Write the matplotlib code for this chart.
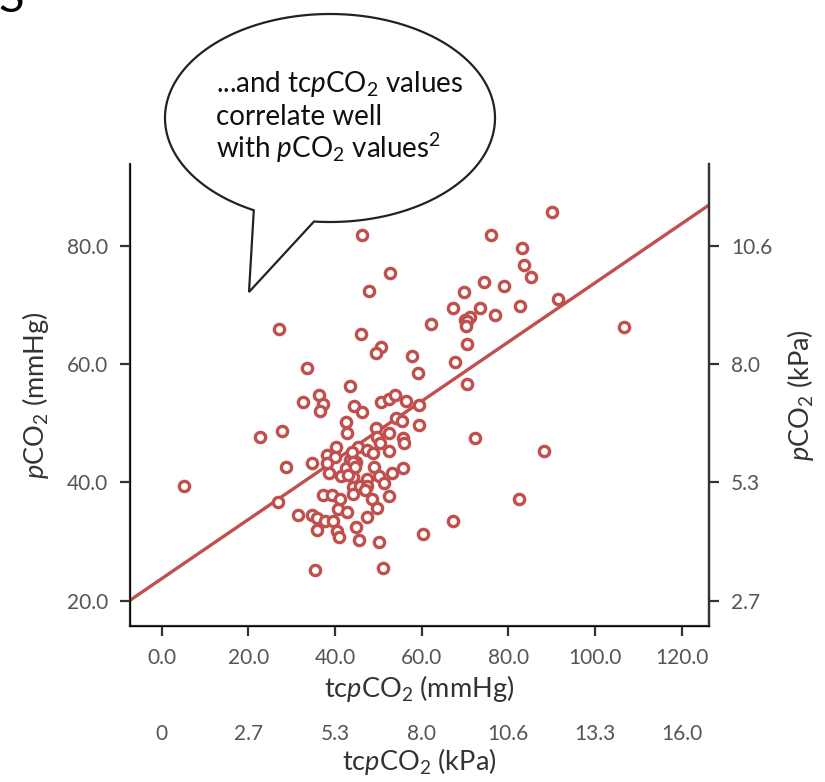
import numpy as np
import matplotlib.pyplot as plt
import matplotlib.transforms as mtransforms
from matplotlib.patches import Polygon

plt.rcParams['font.family'] = ['Lato', 'DejaVu Sans']
plt.rcParams['mathtext.fontset'] = 'custom'
plt.rcParams['mathtext.rm'] = 'Lato'
plt.rcParams['mathtext.it'] = 'Lato:italic'

# tcpCO2 (mmHg) vs pCO2 (mmHg)
tc_pco2 = [5.1, 26.8, 27.1, 22.8, 27.8, 28.7, 31.5, 32.6, 33.5, 34.6,
           36.2, 37.3, 36.5, 43.4, 44.4, 46.2, 50.7, 52.5, 53.8, 56.4,
           59.5, 70.4, 42.5, 42.7, 49.5, 54.1, 55.4, 59.5, 52.5, 55.8,
           55.9, 49.6, 50.4, 38.2, 40.2, 40.0, 38.7, 41.4, 43.5, 45.4,
           47.3, 48.8, 49.0, 52.5, 53.1, 55.6, 50.1, 51.3, 44.2, 47.3,
           44.2, 45.8, 47.4, 44.2, 46.9, 37.3, 39.2, 41.1, 48.5, 52.4,
           40.7, 42.8, 49.8, 34.6, 35.8, 37.7, 39.6, 35.8, 40.4, 41.0,
           44.8, 47.5, 45.6, 50.2, 60.4, 67.3, 35.3, 51.1, 72.4, 88.3,
           82.5, 46.3, 52.7, 47.8, 69.8, 67.2, 62.2, 70.1, 45.9, 50.6,
           49.5, 57.7, 67.6, 70.4, 59.2, 90.0, 76.0, 83.2, 83.6, 85.2,
           74.3, 79.0, 73.5, 76.9, 82.6, 91.4, 71.2, 70.4, 70.2, 106.7,
           44.8, 43.9, 42.5, 43.0, 38.2, 44.2, 44.6]
pco2 = [39.3, 36.6, 65.9, 47.6, 48.7, 42.6, 34.4, 53.6, 59.3, 43.3,
        54.7, 53.2, 52.1, 56.2, 52.9, 51.8, 53.6, 54.1, 54.7, 53.7,
        53.0, 56.6, 50.2, 48.3, 49.2, 50.9, 50.4, 49.7, 48.4, 47.4,
        46.7, 47.6, 46.7, 44.6, 45.9, 44.3, 41.5, 41.0, 43.8, 46.0,
        45.5, 44.9, 42.6, 45.2, 41.6, 42.4, 41.0, 39.8, 40.9, 40.5,
        39.2, 39.3, 39.4, 38.0, 38.7, 37.9, 37.9, 37.2, 37.1, 37.6,
        35.5, 34.9, 35.7, 34.4, 33.9, 33.5, 33.4, 32.0, 31.7, 30.8,
        32.5, 34.2, 30.3, 29.9, 31.3, 33.4, 25.2, 25.5, 47.5, 45.2,
        37.1, 81.8, 75.4, 72.3, 72.1, 69.5, 66.8, 67.4, 65.1, 62.9,
        61.8, 61.4, 60.3, 63.3, 58.4, 85.6, 81.8, 79.6, 76.8, 74.7,
        73.8, 73.2, 69.4, 68.2, 69.8, 71.0, 68.0, 67.3, 66.4, 66.2,
        43.4, 45.1, 42.4, 41.3, 43.2, 43.5, 42.6]

# regression line
intercept = 23.7
slope = 0.50

mmhg_ticks = [0, 20, 40, 60, 80, 100, 120]
kpa_x_labels = ['0', '2.7', '5.3', '8.0', '10.6', '13.3', '16.0']
y_ticks = [20, 40, 60, 80]
kpa_y_labels = ['2.7', '5.3', '8.0', '10.6']

red = '#c0504d'
dark = '#333333'
grey = '#555555'

fig = plt.figure(figsize=(8.25, 7.82), dpi=100)
ax = fig.add_axes([0.1576, 0.1995, 0.7022, 0.5908])

ax.plot(tc_pco2, pco2, 'o', ls='none', ms=7.4, mfc='white', mec=red, mew=2.4, zorder=3)
xl = np.array([-7.3, 126.4])
ax.plot(xl, intercept + slope * xl, color=red, lw=2.4, zorder=2)

ax.set_xlim(-7.3, 126.4)
ax.set_ylim(15.7, 93.8)
ax.set_xticks(mmhg_ticks, [f'{t:.1f}' for t in mmhg_ticks])
ax.set_yticks(y_ticks, [f'{t:.1f}' for t in y_ticks])
ax.set_xlabel(r'tc$p$CO$_2$ (mmHg)', fontsize=19.5, color=dark, labelpad=4)
ax.set_ylabel(r'$p$CO$_2$ (mmHg)', fontsize=19.5, color=dark, labelpad=12)
ax.spines['top'].set_visible(False)
for s in ['left', 'right', 'bottom']:
    ax.spines[s].set_color(dark)
    ax.spines[s].set_linewidth(1.6)
ax.tick_params(direction='out', length=7.5, width=1.6, color=dark,
               labelsize=15, labelcolor=grey, pad=8)

ax2 = ax.twinx()
ax2.set_ylim(ax.get_ylim())
ax2.set_yticks(y_ticks, kpa_y_labels)
ax2.set_ylabel(r'$p$CO$_2$ (kPa)', fontsize=19.5, color=dark, labelpad=9)
ax2.spines['top'].set_visible(False)
ax2.spines['right'].set_color(dark)
ax2.spines['right'].set_linewidth(1.6)
ax2.tick_params(direction='out', length=7.5, width=1.6, color=dark,
                labelsize=15, labelcolor=grey, pad=8)

sec = ax.secondary_xaxis(-0.195)
sec.set_xticks(mmhg_ticks, kpa_x_labels)
sec.tick_params(length=0, labelsize=15, labelcolor=grey, pad=6)
sec.spines['bottom'].set_visible(False)
sec.set_xlabel(r'tc$p$CO$_2$ (kPa)', fontsize=19.5, color=dark, labelpad=1)

# speech bubble, drawn in pixel space (y down)
px = mtransforms.Affine2D().scale(1 / 825, -1 / 782).translate(0, 1) + fig.transFigure
cx, cy, a, b = 330, 118, 165, 104
base_l, tip, base_r = (254, 210), (249, 292), (314, 221.5)
t_r = np.arctan2((base_r[1] - cy) / b, (base_r[0] - cx) / a)
t_l = np.arctan2((base_l[1] - cy) / b, (base_l[0] - cx) / a)
th = np.linspace(t_l, t_r + 2 * np.pi, 600)
ell = np.column_stack([cx + a * np.cos(th), cy + b * np.sin(th)])
pts = np.vstack([ell, [tip]])
fig.patches.append(Polygon(pts, closed=True, facecolor='white', edgecolor='#222222',
                           lw=1.6, transform=px, zorder=5))

bubble_lines = [r'...and tc$p$CO$_2$ values', 'correlate well', r'with $p$CO$_2$ values$^2$']
for i, line in enumerate(bubble_lines):
    fig.text(216 / 825, 1 - (92 + 33 * i) / 782, line, fontsize=20, color='#111111',
             va='baseline', ha='left', zorder=6)

# cut-off heading fragment at the top-left corner
fig.text(-2 / 825, 1 - 12 / 782, 'S', fontsize=34, color='black', va='baseline', ha='left')

fig.savefig('out.png', dpi=100)
